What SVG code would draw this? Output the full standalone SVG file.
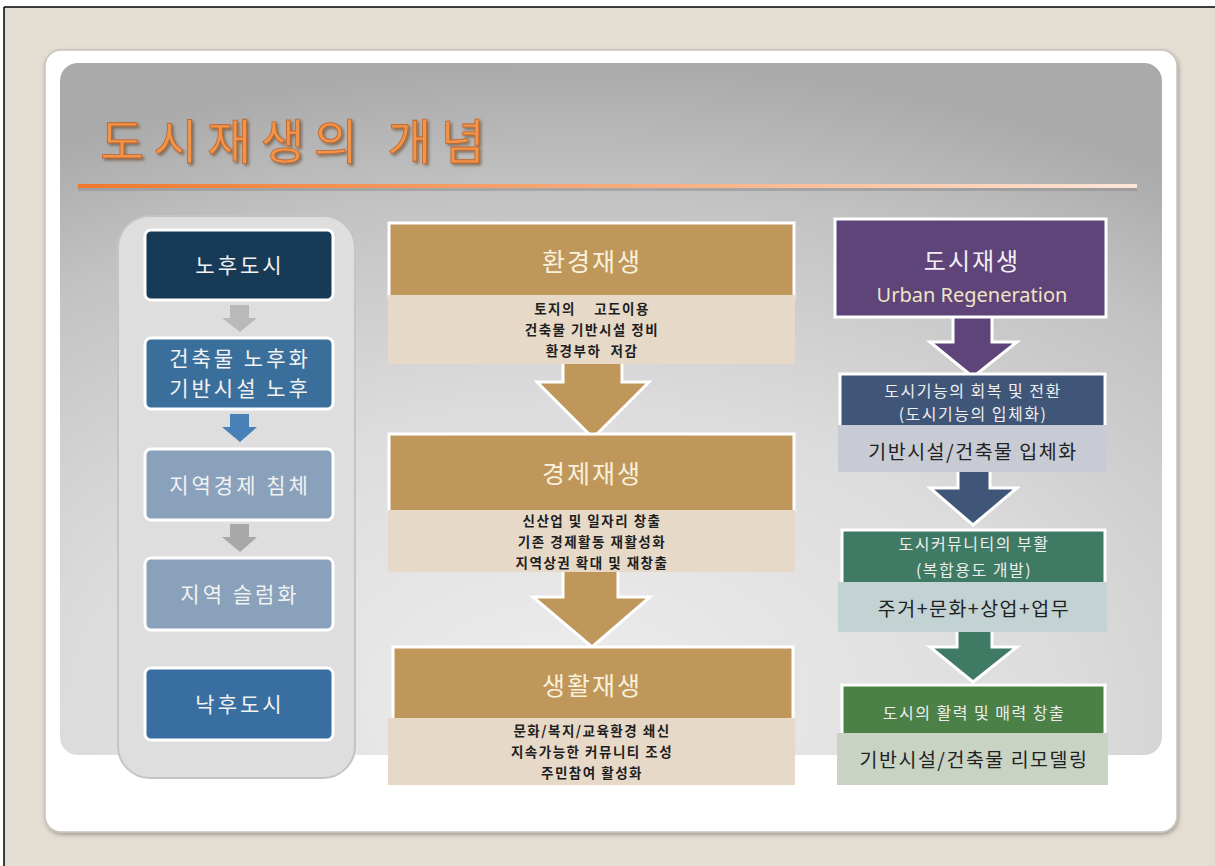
<svg xmlns="http://www.w3.org/2000/svg" width="1215" height="866" viewBox="0 0 1215 866">
<defs>
<radialGradient id="panelGrad" cx="0.47" cy="1.0" r="1.0" fx="0.45" fy="0.9">
<stop offset="0" stop-color="#ededed"/>
<stop offset="0.45" stop-color="#dcdcdc"/>
<stop offset="0.8" stop-color="#c2c2c2"/>
<stop offset="1" stop-color="#aaaaaa"/>
</radialGradient>
<linearGradient id="lineGrad" x1="0" y1="0" x2="1" y2="0">
<stop offset="0" stop-color="#f0782c"/>
<stop offset="0.6" stop-color="#f9b48a"/>
<stop offset="1" stop-color="#fde6d8"/>
</linearGradient>
<filter id="shadow" x="-5%" y="-5%" width="110%" height="110%">
<feDropShadow dx="1" dy="2" stdDeviation="2" flood-color="#000" flood-opacity="0.3"/>
</filter>
<filter id="tshadow" x="-5%" y="-10%" width="110%" height="130%">
<feDropShadow dx="2" dy="2" stdDeviation="1.5" flood-color="#5a3a20" flood-opacity="0.6"/>
</filter>
</defs>
<style>
.k { font-family: "Noto Sans CJK KR", "Noto Sans", sans-serif; text-anchor: middle; dominant-baseline: central; }
.lt { fill: #f2f2f2; font-size: 21px; letter-spacing: 3px; }
.mt { fill: #f8f0dc; font-size: 25px; letter-spacing: 2px; }
.mb { fill: #1e1e1e; font-size: 13.5px; font-weight: bold; letter-spacing: 1.5px; }
.rt { fill: #eeeeee; font-size: 16px; letter-spacing: 1.5px; }
.rb { fill: #222222; font-size: 19.5px; letter-spacing: 1.5px; }
.box { stroke: #ffffff; stroke-width: 3; }
.arr { stroke: #ffffff; stroke-width: 3; stroke-linejoin: miter; }
</style>

<rect x="0" y="0" width="1215" height="866" fill="#ffffff"/>
<rect x="4" y="7" width="1211" height="859" fill="#e4ddd2"/>
<line x1="4" y1="7" x2="1215" y2="7" stroke="#000" stroke-width="1.5"/>
<line x1="4" y1="7" x2="4" y2="866" stroke="#000" stroke-width="1.5"/>

<rect x="45" y="50" width="1132" height="782" rx="16" fill="#ffffff" stroke="#c8c4bc" stroke-width="1.5" filter="url(#shadow)"/>
<rect x="60" y="63" width="1102" height="692" rx="18" fill="url(#panelGrad)"/>

<g id="title">
<text x="100" y="138" font-family="'Noto Sans CJK KR', sans-serif" font-size="48" fill="#f4944a" stroke="#c0652a" stroke-width="0.8" textLength="385" lengthAdjust="spacing" dominant-baseline="central" filter="url(#tshadow)">도시재생의 개념</text>
<rect x="78" y="187" width="1059" height="4" fill="#8a8a8a" opacity="0.5"/>
<rect x="78" y="184" width="1059" height="4" fill="url(#lineGrad)"/>
</g>

<g id="left-panel">
<rect x="118" y="216" width="237" height="562" rx="32" fill="#dedede" stroke="#c4c4c4" stroke-width="2"/>
</g>

<g id="connectors">
<polygon points="230,305 249,305 249,318 257,318 240,332 222,318 230,318" fill="#b9b9b9"/>
<polygon points="230,414 249,414 249,427 257,427 240,442 222,427 230,427" fill="#4a80b8"/>
<polygon points="230,524 249,524 249,537 257,537 240,552 222,537 230,537" fill="#a8a8a8"/>
<polygon class="arr" points="563,360 622,360 622,382 649,382 593,438 537,382 563,382" fill="#c0975a"/>
<polygon class="arr" points="563,570 618,570 618,597 650,597 592,647 533,597 563,597" fill="#c0975a"/>
<polygon class="arr" points="953,314 992,314 992,342 1017,342 973,377 930,342 953,342" fill="#5e4478"/>
<polygon class="arr" points="958,470 990,470 990,488 1017,488 973,525 930,488 958,488" fill="#3f5678"/>
<polygon class="arr" points="957,630 992,630 992,647 1017,647 973,682 930,647 957,647" fill="#3f7a64"/>
</g>

<g id="n-nohu">
<rect class="box" x="145" y="230" width="188" height="70" rx="6" fill="#173b56"/>
<text class="k lt" x="240" y="264">노후도시</text>
</g>
<g id="n-building">
<rect class="box" x="145" y="338" width="188" height="71" rx="6" fill="#3a6f9c"/>
<text class="k lt" x="240" y="357">건축물 노후화</text>
<text class="k lt" x="240" y="387">기반시설 노후</text>
</g>
<g id="n-economy">
<rect class="box" x="145" y="449" width="188" height="71" rx="6" fill="#8aa1bb"/>
<text class="k lt" x="240" y="484">지역경제 침체</text>
</g>
<g id="n-slum">
<rect class="box" x="145" y="558" width="188" height="72" rx="6" fill="#8aa1bb"/>
<text class="k lt" x="240" y="593">지역 슬럼화</text>
</g>
<g id="n-nakhu">
<rect class="box" x="145" y="668" width="188" height="72" rx="6" fill="#386fa0"/>
<text class="k lt" x="240" y="703">낙후도시</text>
</g>

<g id="n-env">
<rect x="389" y="223" width="405" height="74" fill="#c0975a" stroke="#ffffff" stroke-width="3"/>
<rect x="388" y="295" width="407" height="69" fill="#e7d9c8"/>
<text class="k mt" x="592" y="260">환경재생</text>
<text class="k mb" x="592" y="308" xml:space="preserve">토지의    고도이용</text>
<text class="k mb" x="592" y="329">건축물 기반시설 정비</text>
<text class="k mb" x="592" y="350" xml:space="preserve">환경부하  저감</text>
</g>
<g id="n-eco">
<rect x="389" y="434" width="405" height="78" fill="#c0975a" stroke="#ffffff" stroke-width="3"/>
<rect x="388" y="510" width="407" height="62" fill="#e7d9c8"/>
<text class="k mt" x="592" y="472">경제재생</text>
<text class="k mb" x="592" y="520">신산업 및 일자리 창출</text>
<text class="k mb" x="592" y="541">기존 경제활동 재활성화</text>
<text class="k mb" x="592" y="562">지역상권 확대 및 재창출</text>
</g>
<g id="n-life">
<rect x="393" y="647" width="400" height="73" fill="#c0975a" stroke="#ffffff" stroke-width="3"/>
<rect x="388" y="718" width="407" height="67" fill="#e7d9c8"/>
<text class="k mt" x="592" y="684">생활재생</text>
<text class="k mb" x="592" y="730">문화/복지/교육환경 쇄신</text>
<text class="k mb" x="592" y="751">지속가능한 커뮤니티 조성</text>
<text class="k mb" x="592" y="772">주민참여 활성화</text>
</g>

<g id="n-urban">
<rect x="835" y="219" width="271" height="98" fill="#5e4478" stroke="#ffffff" stroke-width="3"/>
<text class="k" x="972" y="259" font-size="24" fill="#f2ecf4" letter-spacing="2">도시재생</text>
<text x="972" y="294" font-family="'Noto Sans', sans-serif" font-size="20" fill="#efe4c6" text-anchor="middle" dominant-baseline="central">Urban Regeneration</text>
</g>
<g id="n-func">
<rect x="840" y="374" width="265" height="53" fill="#3f5678" stroke="#ffffff" stroke-width="3"/>
<rect x="838" y="425" width="269" height="47" fill="#c8cbd4"/>
<text class="k rt" x="973" y="390">도시기능의 회복 및 전환</text>
<text class="k rt" x="973" y="413">(도시기능의 입체화)</text>
<text class="k rb" x="973" y="450">기반시설/건축물 입체화</text>
</g>
<g id="n-comm">
<rect x="842" y="530" width="263" height="54" fill="#3f7a64" stroke="#ffffff" stroke-width="3"/>
<rect x="838" y="582" width="269" height="50" fill="#c3d2d3"/>
<text class="k rt" x="974" y="543">도시커뮤니티의 부활</text>
<text class="k rt" x="974" y="569">(복합용도 개발)</text>
<text class="k rb" x="974" y="607">주거+문화+상업+업무</text>
</g>
<g id="n-vital">
<rect x="842" y="685" width="263" height="50" fill="#4b8046" stroke="#ffffff" stroke-width="3"/>
<rect x="837" y="733" width="271" height="52" fill="#c9d3c4"/>
<text class="k rt" x="974" y="712">도시의 활력 및 매력 창출</text>
<text class="k rb" x="974" y="758">기반시설/건축물 리모델링</text>
</g>
</svg>
